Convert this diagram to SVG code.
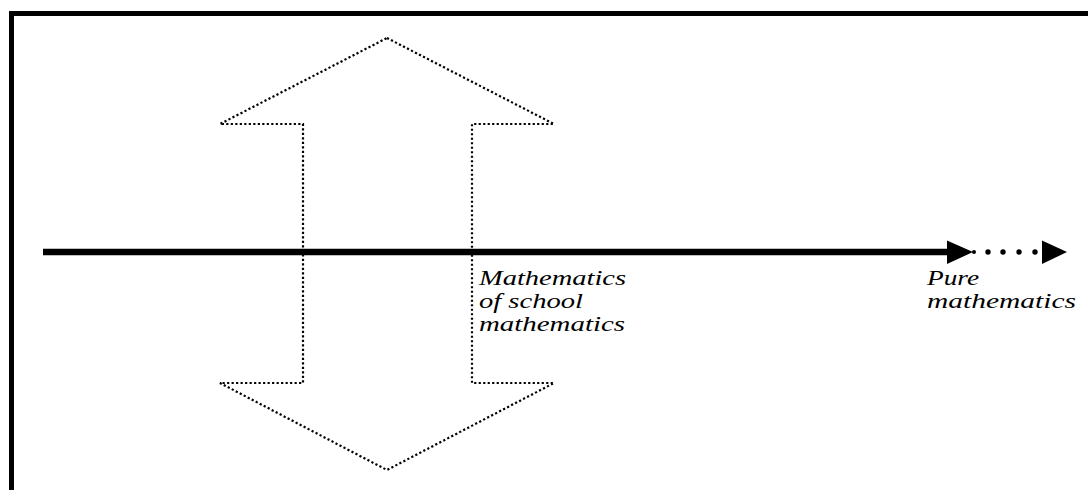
<svg xmlns="http://www.w3.org/2000/svg" width="1088" height="490" viewBox="0 0 1088 490">
  <style>
    .lbl { font-family: "Liberation Serif", "Times New Roman", serif; font-style: italic; font-size: 21px; fill: #000; }
    .dotted { fill: none; stroke: #000; stroke-width: 2.2; stroke-dasharray: 2.2 2.3; }
  </style>
  <rect width="1088" height="490" fill="#fff"/>
  <g id="frame">
    <path d="M11.5,490 V13.5 H1090" fill="none" stroke="#000" stroke-width="5"/>
  </g>
  <g id="double-arrow">
    <polygon class="dotted" points="387,38 554,124 472,124 472,383 554,383 387,470 220,383 303,383 303,124 220,124"/>
  </g>
  <g id="connectors">
    <line x1="43" y1="252" x2="952" y2="252" stroke="#000" stroke-width="6.5"/>
    <polygon points="947,240.5 973,252 947,264" fill="#000"/>
    <g fill="#000">
      <circle cx="974" cy="252" r="2"/>
      <circle cx="988" cy="252" r="2.7"/>
      <circle cx="1003" cy="252" r="2.7"/>
      <circle cx="1019" cy="252" r="2.7"/>
      <circle cx="1035" cy="252" r="2.7"/>
    </g>
    <polygon points="1042,240.5 1067,252 1042,264" fill="#000"/>
  </g>
  <g id="label-school">
    <text class="lbl" x="479" y="285" textLength="147" lengthAdjust="spacingAndGlyphs">Mathematics</text>
    <text class="lbl" x="479" y="308" textLength="104" lengthAdjust="spacingAndGlyphs">of school</text>
    <text class="lbl" x="479" y="331" textLength="146" lengthAdjust="spacingAndGlyphs">mathematics</text>
  </g>
  <g id="label-pure">
    <text class="lbl" x="927" y="285" textLength="52" lengthAdjust="spacingAndGlyphs">Pure</text>
    <text class="lbl" x="927" y="308" textLength="149" lengthAdjust="spacingAndGlyphs">mathematics</text>
  </g>
</svg>
